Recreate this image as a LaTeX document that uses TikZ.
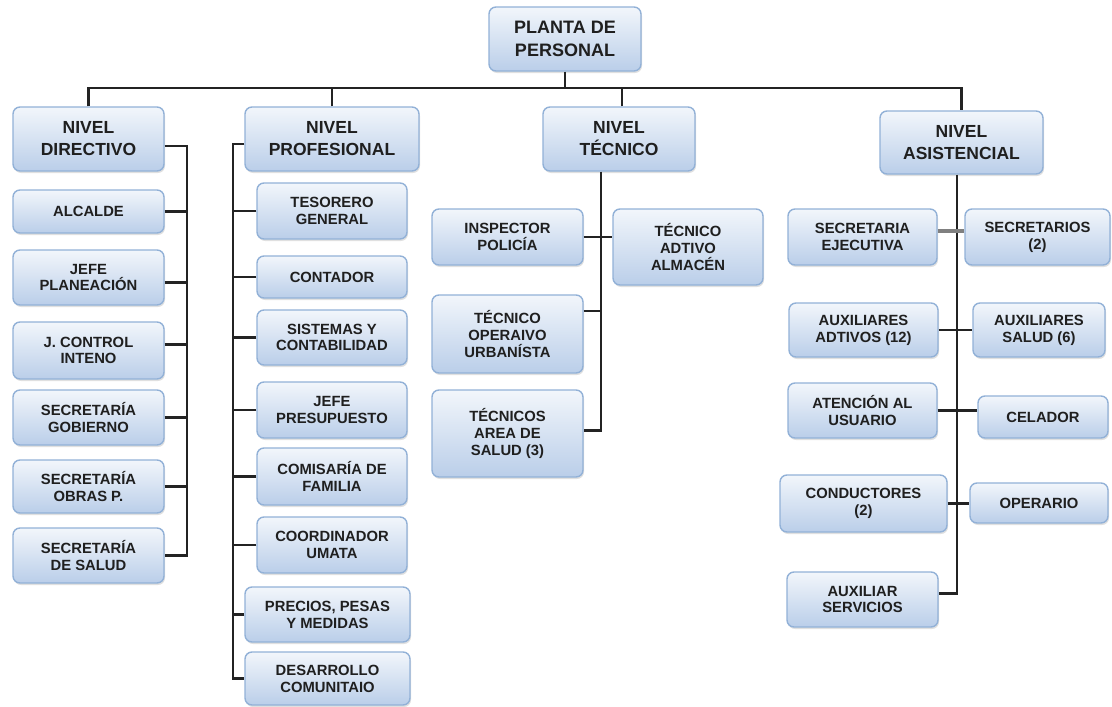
\documentclass[tikz,border=0pt]{standalone}
\usepackage{fontspec}
\setmainfont{Liberation Sans}
\usetikzlibrary{shadows,calc}
\definecolor{boxborder}{RGB}{146,177,215}
\definecolor{boxtop}{RGB}{242,246,251}
\definecolor{boxbot}{RGB}{186,206,233}
\definecolor{linec}{RGB}{35,35,35}
\tikzset{
  box/.style={draw=boxborder, line width=1.4pt, rounded corners=7pt,
    top color=boxtop, bottom color=boxbot,
    drop shadow={shadow xshift=1pt, shadow yshift=-2pt, fill=black!35, opacity=0.35},
    align=center, inner sep=2pt, text=black!88},
  smallbox/.style={box, font=\bfseries\fontsize{14.8}{16.8}\selectfont},
  levelbox/.style={box, font=\bfseries\fontsize{17.5}{22}\selectfont},
  rootbox/.style={box, font=\bfseries\fontsize{18}{23}\selectfont},
  conn/.style={draw=linec, line width=2.2pt},
  thickconn/.style={draw=black!50, line width=3.6pt},
}
% style, name, x1, y1, x2, y2, text
\newcommand\obox[7]{%
  \node[#1, minimum width={#5pt-#3pt}, minimum height={#6pt-#4pt}]
    (#2) at ({(#3+#5)/2},{(#4+#6)/2}) {#7};}
\begin{document}
\begin{tikzpicture}[x=1pt,y=-1pt]
\useasboundingbox (0,0) rectangle (1112,707);
% root and levels
\obox{rootbox}{root}{489}{7}{641}{71}{PLANTA DE\\PERSONAL}
\obox{levelbox}{dir}{13}{107}{164}{171}{NIVEL\\DIRECTIVO}
\obox{levelbox}{prof}{245}{107}{419}{171}{NIVEL\\PROFESIONAL}
\obox{levelbox}{tec}{543}{107}{695}{171}{NIVEL\\TÉCNICO}
\obox{levelbox}{asi}{880}{111}{1043}{174}{NIVEL\\ASISTENCIAL}
% directivo
\obox{smallbox}{alcalde}{13}{190}{164}{233}{ALCALDE}
\obox{smallbox}{jefepl}{13}{250}{164}{305}{JEFE\\PLANEACIÓN}
\obox{smallbox}{jcontrol}{13}{322}{164}{379}{J. CONTROL\\INTENO}
\obox{smallbox}{secgob}{13}{390}{164}{445}{SECRETARÍA\\GOBIERNO}
\obox{smallbox}{secobras}{13}{460}{164}{513}{SECRETARÍA\\OBRAS P.}
\obox{smallbox}{secsalud}{13}{528}{164}{583}{SECRETARÍA\\DE SALUD}
% profesional
\obox{smallbox}{tesorero}{257}{183}{407}{239}{TESORERO\\GENERAL}
\obox{smallbox}{contador}{257}{256}{407}{298}{CONTADOR}
\obox{smallbox}{sistemas}{257}{310}{407}{365}{SISTEMAS Y\\CONTABILIDAD}
\obox{smallbox}{jefepres}{257}{382}{407}{438}{JEFE\\PRESUPUESTO}
\obox{smallbox}{comisaria}{257}{448}{407}{505}{COMISARÍA DE\\FAMILIA}
\obox{smallbox}{coordinador}{257}{517}{407}{573}{COORDINADOR\\UMATA}
\obox{smallbox}{precios}{245}{587}{410}{642}{PRECIOS, PESAS\\Y MEDIDAS}
\obox{smallbox}{desarrollo}{245}{652}{410}{705}{DESARROLLO\\COMUNITAIO}
% tecnico
\obox{smallbox}{inspector}{432}{209}{583}{265}{INSPECTOR\\POLICÍA}
\obox{smallbox}{almacen}{613}{209}{763}{285}{TÉCNICO\\ADTIVO\\ALMACÉN}
\obox{smallbox}{urbanista}{432}{295}{583}{373}{TÉCNICO\\OPERAIVO\\URBANÍSTA}
\obox{smallbox}{salud3}{432}{390}{583}{477}{TÉCNICOS\\AREA DE\\SALUD (3)}
% asistencial
\obox{smallbox}{secejec}{788}{209}{937}{265}{SECRETARIA\\EJECUTIVA}
\obox{smallbox}{secretarios}{965}{209}{1110}{265}{SECRETARIOS\\(2)}
\obox{smallbox}{auxadt}{789}{303}{938}{357}{AUXILIARES\\ADTIVOS (12)}
\obox{smallbox}{auxsalud}{973}{303}{1105}{357}{AUXILIARES\\SALUD (6)}
\obox{smallbox}{atencion}{788}{383}{937}{438}{ATENCIÓN AL\\USUARIO}
\obox{smallbox}{celador}{978}{396}{1108}{438}{CELADOR}
\obox{smallbox}{conductores}{780}{475}{947}{532}{CONDUCTORES\\(2)}
\obox{smallbox}{operario}{970}{483}{1108}{523}{OPERARIO}
\obox{smallbox}{auxserv}{787}{572}{938}{627}{AUXILIAR\\SERVICIOS}
% helper coordinates
\coordinate (bus) at (0,88);
\coordinate (dline) at (187,0);
\coordinate (pline) at (233,0);
\coordinate (tline) at (601,0);
\coordinate (aline) at (957,0);
% top bus
\draw[conn] (dir.north) |- (bus -| asi.north) -- (asi.north);
\draw[conn] (root.south) -- (root.south |- bus);
\draw[conn] (prof.north) -- (prof.north |- bus);
\draw[conn] ([xshift=3pt]tec.north) -- ([xshift=3pt]tec.north |- bus);
% directivo
\draw[conn] ([yshift=-7pt]dir.east) -| (dline |- secsalud.east) -- (secsalud.east);
\foreach \n in {alcalde,secgob,secobras}
  \draw[conn] (\n.east) -- (\n.east -| dline);
\draw[conn] ([yshift=-5pt]jefepl.east) -- ([yshift=-5pt]jefepl.east -| dline);
\draw[conn] ([yshift=6pt]jcontrol.east) -- ([yshift=6pt]jcontrol.east -| dline);
% profesional
\draw[conn] ([yshift=-5pt]prof.west) -| (pline |- desarrollo.west) -- (desarrollo.west);
\foreach \n in {tesorero,contador,sistemas,jefepres,comisaria,coordinador,precios}
  \draw[conn] (\n.west) -- (\n.west -| pline);
% tecnico
\draw[conn] (tec.south -| tline) |- ([yshift=3pt]salud3.east);
\draw[conn] (inspector.east) -- (inspector.east -| almacen.west);
\draw[conn] ([yshift=23pt]urbanista.east) -- ([yshift=23pt]urbanista.east -| tline);
% asistencial
\draw[conn] (asi.south -| aline) |- ([yshift=6pt]auxserv.east);
\draw[thickconn] ([yshift=6pt]secejec.east) -- ([yshift=6pt]secejec.east -| secretarios.west);
\draw[conn] (auxadt.east) -- (auxadt.east -| auxsalud.west);
\draw[conn] (atencion.east) -- (atencion.east -| celador.west);
\draw[conn] (conductores.east) -- (conductores.east -| operario.west);
\end{tikzpicture}
\end{document}
